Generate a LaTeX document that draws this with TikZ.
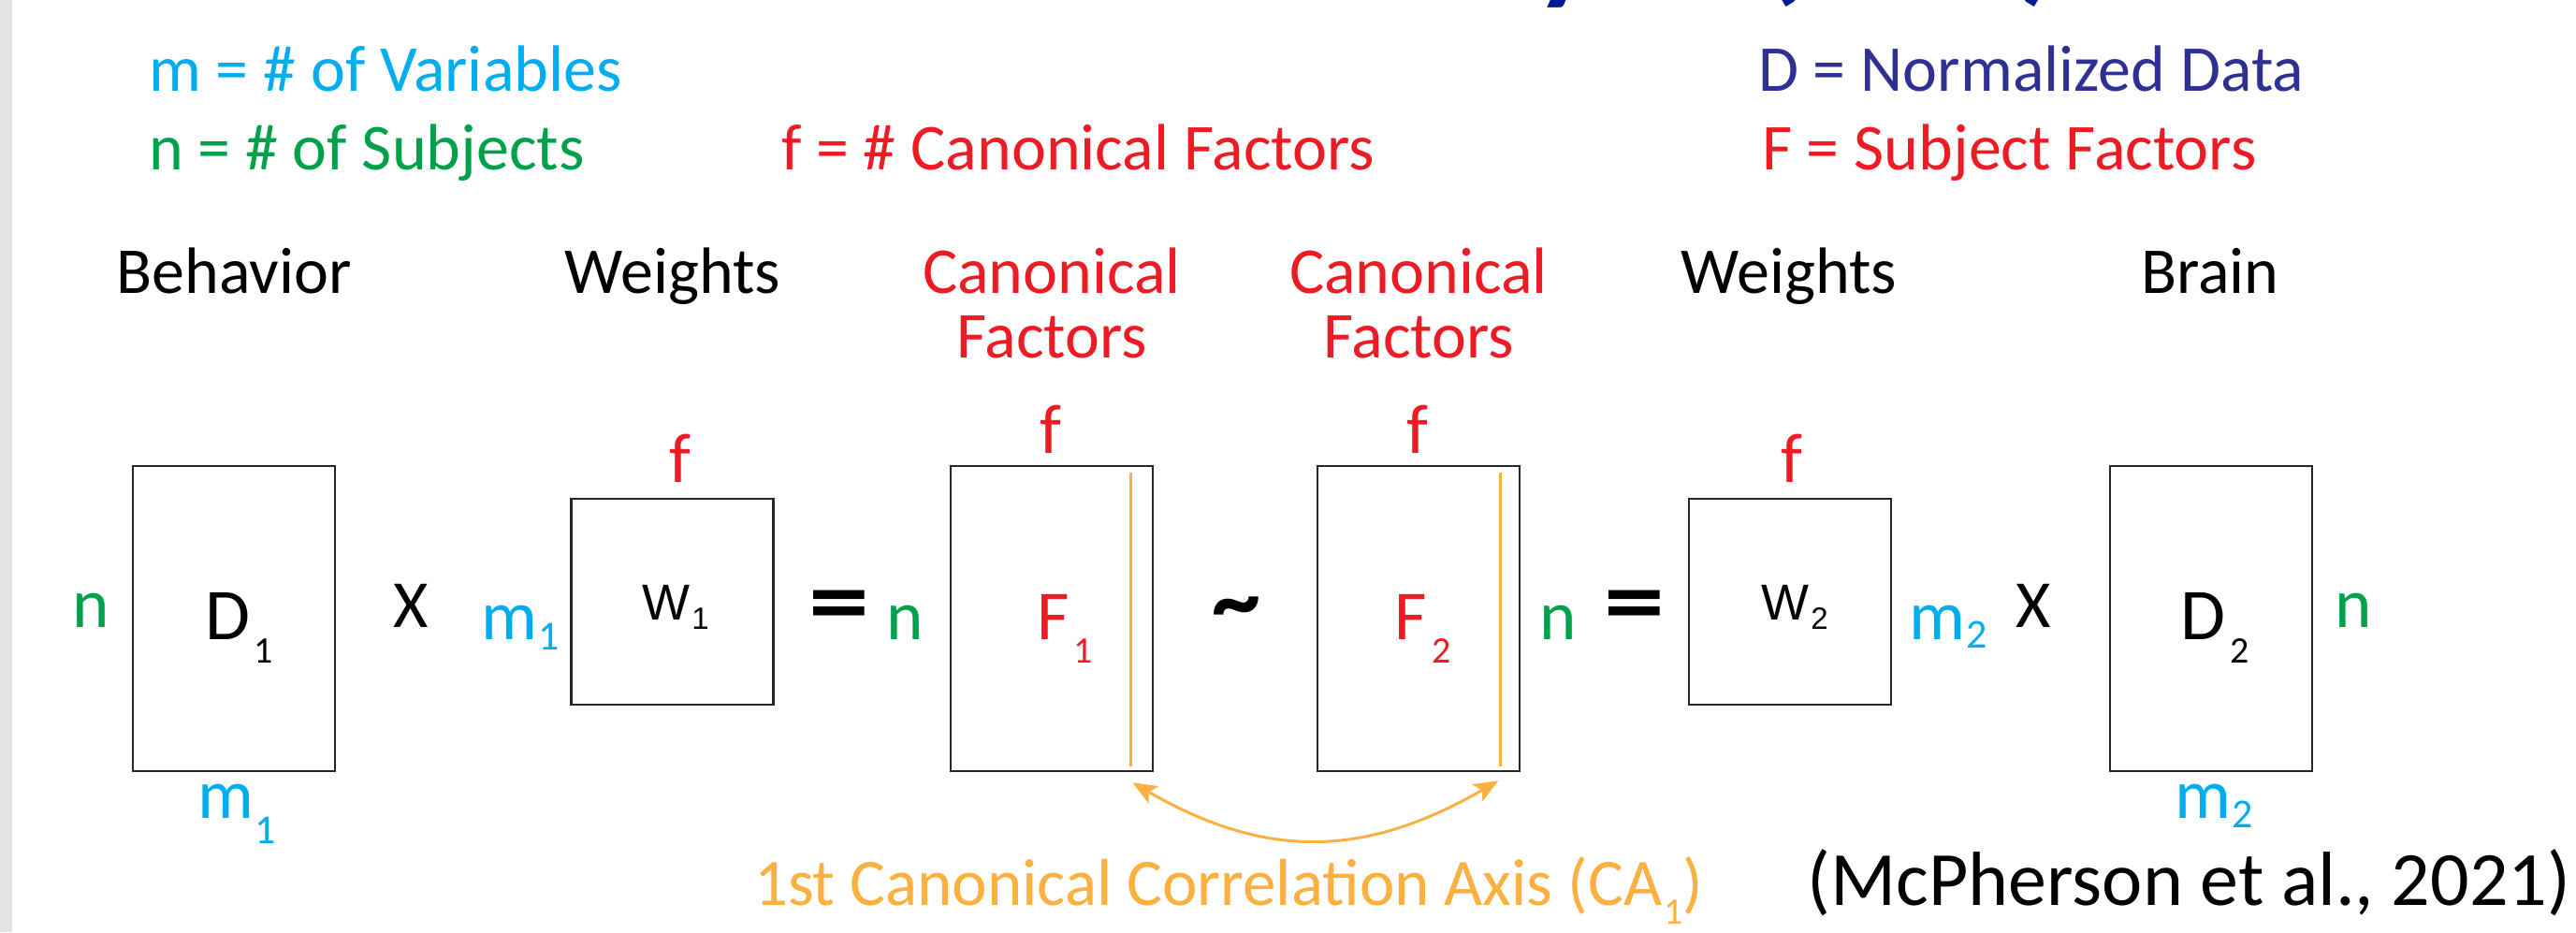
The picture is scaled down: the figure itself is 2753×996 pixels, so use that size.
\documentclass[tikz,border=0pt]{standalone}
\usepackage{fontspec}
\usepackage{graphicx}
\setmainfont{Carlito}
\newfontfamily\arialfont{Liberation Sans}
\usetikzlibrary{arrows.meta}

\definecolor{varcyan}{RGB}{0,174,239}
\definecolor{subjgreen}{RGB}{0,161,75}
\definecolor{factred}{RGB}{237,28,36}
\definecolor{datablue}{RGB}{46,49,146}
\definecolor{axisorange}{RGB}{251,176,64}
\definecolor{titleblue}{RGB}{0,26,150}
\definecolor{sidebar}{RGB}{228,228,228}

% lowered subscript: drop (pt), size (pt), text
\newcommand\lsub[3]{\kern2pt\raisebox{-#1pt}{\fontsize{#2}{#2}\selectfont #3}}
% hanging subscript that does not widen the letter it follows
\newcommand\hsub[2][40]{\rlap{\kern5pt\raisebox{-25pt}{\fontsize{#1}{#1}\selectfont #2}}}

\begin{document}
\begin{tikzpicture}[x=1pt,y=-1pt,
  txt/.style={inner sep=0pt, outer sep=0pt, font=\fontsize{70}{84}\selectfont},
  dim/.style={inner sep=0pt, outer sep=0pt, font=\fontsize{75}{84}\selectfont},
  bigbox/.style={draw=black!85, line width=2.6pt, inner sep=0pt,
                 minimum width=216pt, minimum height=326pt},
  smallbox/.style={draw=black!85, line width=2.6pt, inner sep=0pt,
                   minimum width=216pt, minimum height=220pt},
  opsign/.style={inner sep=0pt, outer sep=0pt, anchor=base},
  wlab/.style={inner sep=0pt, outer sep=0pt, anchor=base, font=\arialfont\fontsize{54}{60}\selectfont},
  axisline/.style={draw=axisorange, line width=2.4pt},
  axisarrow/.style={draw=axisorange, line width=3pt,
                    >={Stealth[length=26pt,width=21pt,inset=6pt]}, <->},
]
\useasboundingbox (0,0) rectangle (2753,996);
\clip (0,0) rectangle (2753,996);
\fill[white] (0,0) rectangle (2753,996);
\fill[sidebar] (0,0) rectangle (13,996);

% slide title, mostly above the visible area
\node[inner sep=0pt, outer sep=0pt, anchor=base east, text=titleblue,
      font=\fontsize{139}{160}\selectfont\bfseries] (title) at (2200,-14)
      {Canonical Correlation Analysis (CCA)};

% legend
\node[txt, anchor=base west, text=varcyan]   (legm) at (159,97)  {m = \# of Variables};
\node[txt, anchor=base west, text=subjgreen] (legn) at (159,181) {n = \# of Subjects};
\node[txt, anchor=base west, text=factred]   (legf) at (835,181) {f = \# Canonical Factors};
\node[txt, anchor=base west, text=datablue]  (legD) at (1879,97) {D = Normalized Data};
\node[txt, anchor=base west, text=factred]   (legF) at (1883,181) {F = Subject Factors};

% column headers
\node[txt, anchor=base] (hbeh) at (250,313) {Behavior};
\node[txt, anchor=base] (hw1)  at (719,313) {Weights};
\node[txt, anchor=base, text=factred] (hc1) at (1124,313) {Canonical};
\node[txt, anchor=base, text=factred] (hf1) at (1124,382) {Factors};
\node[txt, anchor=base, text=factred] (hc2) at (1516,313) {Canonical};
\node[txt, anchor=base, text=factred] (hf2) at (1516,382) {Factors};
\node[txt, anchor=base] (hw2)  at (1912,313) {Weights};
\node[txt, anchor=base] (hbr)  at (2362,313) {Brain};

% matrices
\node[bigbox]   (D1) at (250,661) {};
\node[smallbox] (W1) at (718.5,643) {};
\node[bigbox]   (F1) at (1124,661) {};
\node[bigbox]   (F2) at (1516,661) {};
\node[smallbox] (W2) at (1913,643) {};
\node[bigbox]   (D2) at (2363,661) {};

% matrix names
\node[dim, anchor=base, font=\fontsize{78}{84}\selectfont] (D1lab) at (243,683) {D\hsub{1}};
\node[wlab] (W1lab) at (722,662) {W\lsub{10}{33}{1}};
\node[dim, anchor=base, text=factred] (F1lab) at (1125.5,683) {F\hsub{1}};
\node[dim, anchor=base, text=factred] (F2lab) at (1508,683) {F\hsub{2}};
\node[wlab] (W2lab) at (1918,662) {W\lsub{10}{33}{2}};
\node[dim, anchor=base, font=\fontsize{78}{84}\selectfont] (D2lab) at (2354,683) {D\hsub{2}};

% dimension labels
\node[dim, anchor=base, text=subjgreen] (nD1) at (97,670) {n};
\node[dim, anchor=base west, text=varcyan] (mD1) at (211,874) {m\kern2pt\raisebox{-27pt}{\fontsize{44}{44}\selectfont 1}};
\node[dim, anchor=base west, text=varcyan] (mW1) at (514,683) {m\lsub{11}{44}{1}};
\node[dim, anchor=base, text=factred]   (fW1) at (727,515) {f};
\node[dim, anchor=base, text=subjgreen] (nF1) at (967.5,683) {n};
\node[dim, anchor=base, text=factred]   (fF1) at (1123,484) {f};
\node[dim, anchor=base, text=factred]   (fF2) at (1515,484) {f};
\node[dim, anchor=base, text=subjgreen] (nF2) at (1665,683) {n};
\node[dim, anchor=base, text=factred]   (fW2) at (1915,515) {f};
\node[dim, anchor=base west, text=varcyan] (mW2) at (2040,683) {m\lsub{9}{44}{2}};
\node[dim, anchor=base, text=subjgreen] (nD2) at (2515.5,670) {n};
\node[dim, anchor=base west, text=varcyan] (mD2) at (2324,874) {m\lsub{10}{44}{2}};

% operators
\node[opsign, font=\fontsize{72}{80}\selectfont] (times1) at (439.5,670) {X};
\node[opsign, font=\fontsize{104}{110}\selectfont\bfseries] (eq1) at (897,677) {\scalebox{1.25}[1]{=}};
\node[opsign, font=\fontsize{104}{104}\selectfont\bfseries] (sim) at (1321,676) {\char`\~};
\node[opsign, font=\fontsize{104}{110}\selectfont\bfseries] (eq2) at (1747,677) {\scalebox{1.25}[1]{=}};
\node[opsign, font=\fontsize{72}{80}\selectfont] (times2) at (2173.5,670) {X};

% first canonical axis inside each factor matrix
\draw[axisline] ([xshift=-25pt,yshift=-8pt]F1.north east) -- ([xshift=-25pt,yshift=6pt]F1.south east);
\draw[axisline] ([xshift=-22pt,yshift=-8pt]F2.north east) -- ([xshift=-22pt,yshift=6pt]F2.south east);

\coordinate (ax1) at ([xshift=-23pt,yshift=-11pt]F1.south east);
\coordinate (ax2) at ([xshift=-24pt,yshift=-9pt]F2.south east);
\draw[axisarrow] (ax1) .. controls +(30:165) and +(150:165) .. (ax2);

\node[txt, anchor=base west, text=axisorange, font=\fontsize{71}{84}\selectfont] (caption) at (806,967)
  {1st Canonical Correlation Axis (CA\lsub{20}{40}{1})};
\node[inner sep=0pt, outer sep=0pt, anchor=base east, font=\fontsize{82}{90}\selectfont] (cite) at (2747,967)
  {(McPherson et al., 2021)};
\end{tikzpicture}
\end{document}
